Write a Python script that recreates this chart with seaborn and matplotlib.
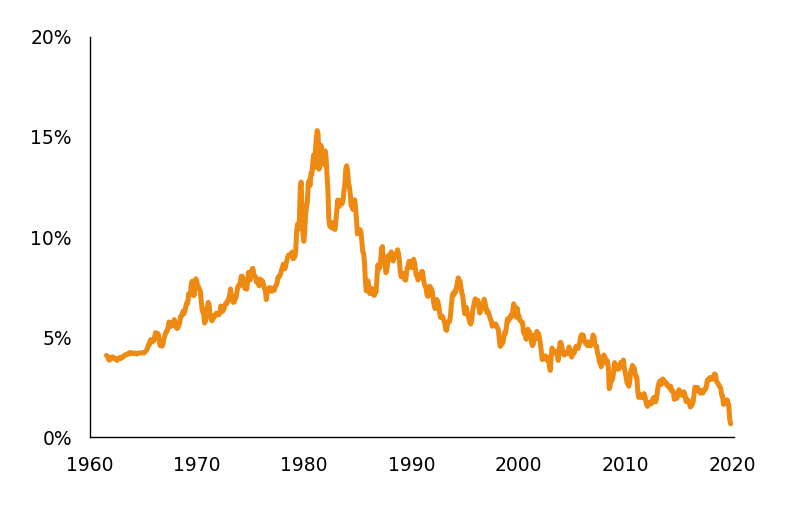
import numpy as np
import pandas as pd
import matplotlib
matplotlib.use("Agg")
import matplotlib.pyplot as plt
import seaborn as sns

# ----------------------------
# Data: 10-year yield, monthly (%), Jan 1962 - Apr 2020
# ----------------------------
years = list(range(1962, 2021))

yields = {
    1962: [4.08, 4.04, 3.93, 3.84, 3.87, 3.91, 4.01, 3.98, 3.98, 3.93, 3.92, 3.86],
    1963: [3.83, 3.92, 3.93, 3.97, 3.93, 3.99, 4.02, 4.00, 4.08, 4.11, 4.12, 4.13],
    1964: [4.17, 4.15, 4.22, 4.23, 4.20, 4.17, 4.19, 4.19, 4.20, 4.19, 4.15, 4.18],
    1965: [4.19, 4.21, 4.21, 4.20, 4.21, 4.21, 4.20, 4.25, 4.29, 4.35, 4.45, 4.62],
    1966: [4.61, 4.83, 4.87, 4.75, 4.78, 4.81, 5.02, 5.22, 5.18, 5.01, 5.16, 4.84],
    1967: [4.58, 4.63, 4.54, 4.59, 4.85, 5.02, 5.16, 5.28, 5.30, 5.48, 5.75, 5.70],
    1968: [5.53, 5.56, 5.74, 5.64, 5.87, 5.72, 5.50, 5.42, 5.46, 5.58, 5.70, 6.03],
    1969: [6.04, 6.19, 6.30, 6.17, 6.32, 6.57, 6.72, 6.69, 7.16, 7.10, 7.14, 7.65],
    1970: [7.79, 7.24, 7.07, 7.39, 7.91, 7.84, 7.46, 7.53, 7.39, 7.33, 6.84, 6.39],
    1971: [6.24, 6.11, 5.70, 5.83, 6.39, 6.52, 6.73, 6.58, 6.14, 5.93, 5.81, 5.93],
    1972: [5.95, 6.08, 6.07, 6.19, 6.13, 6.11, 6.11, 6.21, 6.55, 6.48, 6.28, 6.36],
    1973: [6.46, 6.64, 6.71, 6.67, 6.85, 6.90, 7.13, 7.40, 7.09, 6.79, 6.73, 6.74],
    1974: [6.99, 6.96, 7.21, 7.51, 7.58, 7.54, 7.81, 8.04, 8.04, 7.90, 7.68, 7.43],
    1975: [7.50, 7.39, 7.73, 8.23, 8.06, 7.86, 8.06, 8.40, 8.43, 8.14, 8.05, 8.00],
    1976: [7.74, 7.79, 7.73, 7.56, 7.90, 7.86, 7.83, 7.77, 7.59, 7.41, 7.29, 6.87],
    1977: [7.21, 7.39, 7.46, 7.37, 7.46, 7.28, 7.33, 7.40, 7.34, 7.52, 7.58, 7.69],
    1978: [7.96, 8.03, 8.04, 8.15, 8.35, 8.46, 8.64, 8.41, 8.42, 8.64, 8.81, 9.01],
    1979: [9.10, 9.10, 9.12, 9.18, 9.25, 8.91, 8.95, 9.03, 9.33, 10.30, 10.65, 10.39],
    1980: [10.80, 12.41, 12.75, 11.47, 10.18, 9.78, 10.25, 11.10, 11.51, 11.75, 12.68, 12.84],
    1981: [12.57, 13.19, 13.12, 13.68, 14.10, 13.47, 14.28, 14.94, 15.32, 15.15, 13.39, 13.72],
    1982: [14.59, 14.43, 13.86, 13.87, 13.62, 14.30, 13.95, 13.06, 12.34, 10.91, 10.55, 10.54],
    1983: [10.46, 10.72, 10.51, 10.40, 10.38, 10.85, 11.38, 11.85, 11.65, 11.54, 11.69, 11.83],
    1984: [11.67, 11.84, 12.32, 12.63, 13.41, 13.56, 13.36, 12.72, 12.52, 12.16, 11.57, 11.50],
    1985: [11.38, 11.51, 11.86, 11.43, 10.85, 10.16, 10.31, 10.33, 10.37, 10.24, 9.78, 9.26],
    1986: [9.19, 8.70, 7.78, 7.30, 7.71, 7.80, 7.30, 7.17, 7.45, 7.43, 7.25, 7.11],
    1987: [7.08, 7.25, 7.25, 8.02, 8.61, 8.40, 8.45, 8.76, 9.42, 9.52, 8.86, 8.99],
    1988: [8.67, 8.21, 8.37, 8.72, 9.09, 8.92, 9.06, 9.26, 8.98, 8.80, 8.96, 9.11],
    1989: [9.09, 9.17, 9.36, 9.18, 8.86, 8.28, 8.02, 8.11, 8.19, 8.01, 7.87, 7.84],
    1990: [8.21, 8.47, 8.59, 8.79, 8.76, 8.48, 8.47, 8.75, 8.89, 8.72, 8.39, 8.08],
    1991: [8.09, 7.85, 8.11, 8.04, 8.07, 8.28, 8.27, 7.90, 7.65, 7.53, 7.42, 7.09],
    1992: [7.03, 7.34, 7.54, 7.48, 7.39, 7.26, 6.84, 6.59, 6.42, 6.59, 6.87, 6.77],
    1993: [6.60, 6.26, 5.98, 5.97, 6.04, 5.96, 5.81, 5.68, 5.36, 5.33, 5.72, 5.77],
    1994: [5.75, 5.97, 6.48, 6.97, 7.18, 7.10, 7.30, 7.24, 7.46, 7.74, 7.96, 7.81],
    1995: [7.78, 7.47, 7.20, 7.06, 6.63, 6.17, 6.28, 6.49, 6.20, 6.04, 5.93, 5.71],
    1996: [5.65, 5.81, 6.27, 6.51, 6.74, 6.91, 6.87, 6.64, 6.83, 6.53, 6.20, 6.30],
    1997: [6.58, 6.42, 6.69, 6.89, 6.71, 6.49, 6.22, 6.30, 6.21, 6.03, 5.88, 5.81],
    1998: [5.54, 5.57, 5.65, 5.64, 5.65, 5.50, 5.46, 5.34, 4.81, 4.53, 4.83, 4.65],
    1999: [4.72, 5.00, 5.23, 5.18, 5.54, 5.90, 5.79, 5.94, 5.92, 6.11, 6.03, 6.28],
    2000: [6.66, 6.52, 6.26, 5.99, 6.44, 6.10, 6.05, 5.83, 5.80, 5.74, 5.72, 5.24],
    2001: [5.16, 5.10, 4.89, 5.14, 5.39, 5.28, 5.24, 4.97, 4.73, 4.57, 4.65, 5.09],
    2002: [5.04, 4.91, 5.28, 5.21, 5.16, 4.93, 4.65, 4.26, 3.87, 3.94, 4.05, 4.03],
    2003: [4.05, 3.90, 3.81, 3.96, 3.57, 3.33, 3.98, 4.45, 4.27, 4.29, 4.30, 4.27],
    2004: [4.15, 4.08, 3.83, 4.35, 4.72, 4.73, 4.50, 4.28, 4.13, 4.10, 4.19, 4.23],
    2005: [4.22, 4.17, 4.50, 4.34, 4.14, 4.00, 4.18, 4.26, 4.20, 4.46, 4.54, 4.47],
    2006: [4.42, 4.57, 4.72, 4.99, 5.11, 5.11, 5.09, 4.88, 4.72, 4.73, 4.60, 4.56],
    2007: [4.76, 4.72, 4.56, 4.69, 4.75, 5.10, 5.00, 4.67, 4.52, 4.53, 4.15, 4.10],
    2008: [3.74, 3.74, 3.51, 3.68, 3.88, 4.10, 4.01, 3.89, 3.69, 3.81, 3.53, 2.42],
    2009: [2.52, 2.87, 2.82, 2.93, 3.29, 3.72, 3.56, 3.59, 3.40, 3.39, 3.40, 3.59],
    2010: [3.73, 3.69, 3.73, 3.85, 3.42, 3.20, 3.01, 2.70, 2.65, 2.54, 2.76, 3.29],
    2011: [3.39, 3.58, 3.41, 3.46, 3.17, 3.00, 3.00, 2.30, 1.98, 2.15, 2.01, 1.98],
    2012: [1.97, 1.97, 2.17, 2.05, 1.80, 1.62, 1.53, 1.68, 1.72, 1.75, 1.65, 1.72],
    2013: [1.91, 1.98, 1.96, 1.76, 1.93, 2.30, 2.58, 2.74, 2.81, 2.62, 2.72, 2.90],
    2014: [2.86, 2.71, 2.72, 2.71, 2.56, 2.60, 2.54, 2.42, 2.53, 2.30, 2.33, 2.21],
    2015: [1.88, 1.98, 2.04, 1.94, 2.20, 2.36, 2.32, 2.17, 2.17, 2.07, 2.26, 2.24],
    2016: [2.09, 1.78, 1.89, 1.81, 1.81, 1.64, 1.50, 1.56, 1.63, 1.76, 2.14, 2.49],
    2017: [2.43, 2.42, 2.48, 2.30, 2.30, 2.19, 2.32, 2.21, 2.20, 2.36, 2.35, 2.40],
    2018: [2.58, 2.86, 2.84, 2.87, 2.98, 2.91, 2.89, 2.89, 3.00, 3.15, 3.12, 2.83],
    2019: [2.71, 2.68, 2.57, 2.53, 2.40, 2.07, 2.06, 1.63, 1.70, 1.71, 1.81, 1.86],
    2020: [1.76, 1.50, 0.87, 0.66],
}

x_ticks = [1960, 1970, 1980, 1990, 2000, 2010, 2020]
y_ticks = [0, 5, 10, 15, 20]

# ----------------------------
# Build long table
# ----------------------------
rows = []
for y in years:
    for m, v in enumerate(yields[y]):
        rows.append({"date": y + (m + 0.5) / 12, "yield": v})
df = pd.DataFrame(rows)

# ----------------------------
# Plot
# ----------------------------
sns.set_style("white")
plt.rcParams["font.family"] = ["DejaVu Sans"]

fig = plt.figure(figsize=(7.89, 5.11), dpi=100)
ax = fig.add_axes([0.114, 0.1448, 0.8162, 0.7828])

sns.lineplot(data=df, x="date", y="yield", ax=ax, color="#EE8A12", linewidth=3.6)

ax.set_xlim(1960.5, 2020.6)
ax.set_ylim(0, 20)
ax.set_xticks([t + 0.5 for t in x_ticks])
ax.set_xticklabels([str(t) for t in x_ticks])
ax.set_yticks(y_ticks)
ax.set_yticklabels([f"{t}%" for t in y_ticks])
ax.tick_params(axis="both", length=0, labelsize=13.5, colors="black")
ax.tick_params(axis="y", pad=13)
ax.tick_params(axis="x", pad=14)
ax.set_xlabel("")
ax.set_ylabel("")

for s in ["top", "right"]:
    ax.spines[s].set_visible(False)
for s in ["left", "bottom"]:
    ax.spines[s].set_color("black")
    ax.spines[s].set_linewidth(1.0)

fig.savefig("out.png", dpi=100)
